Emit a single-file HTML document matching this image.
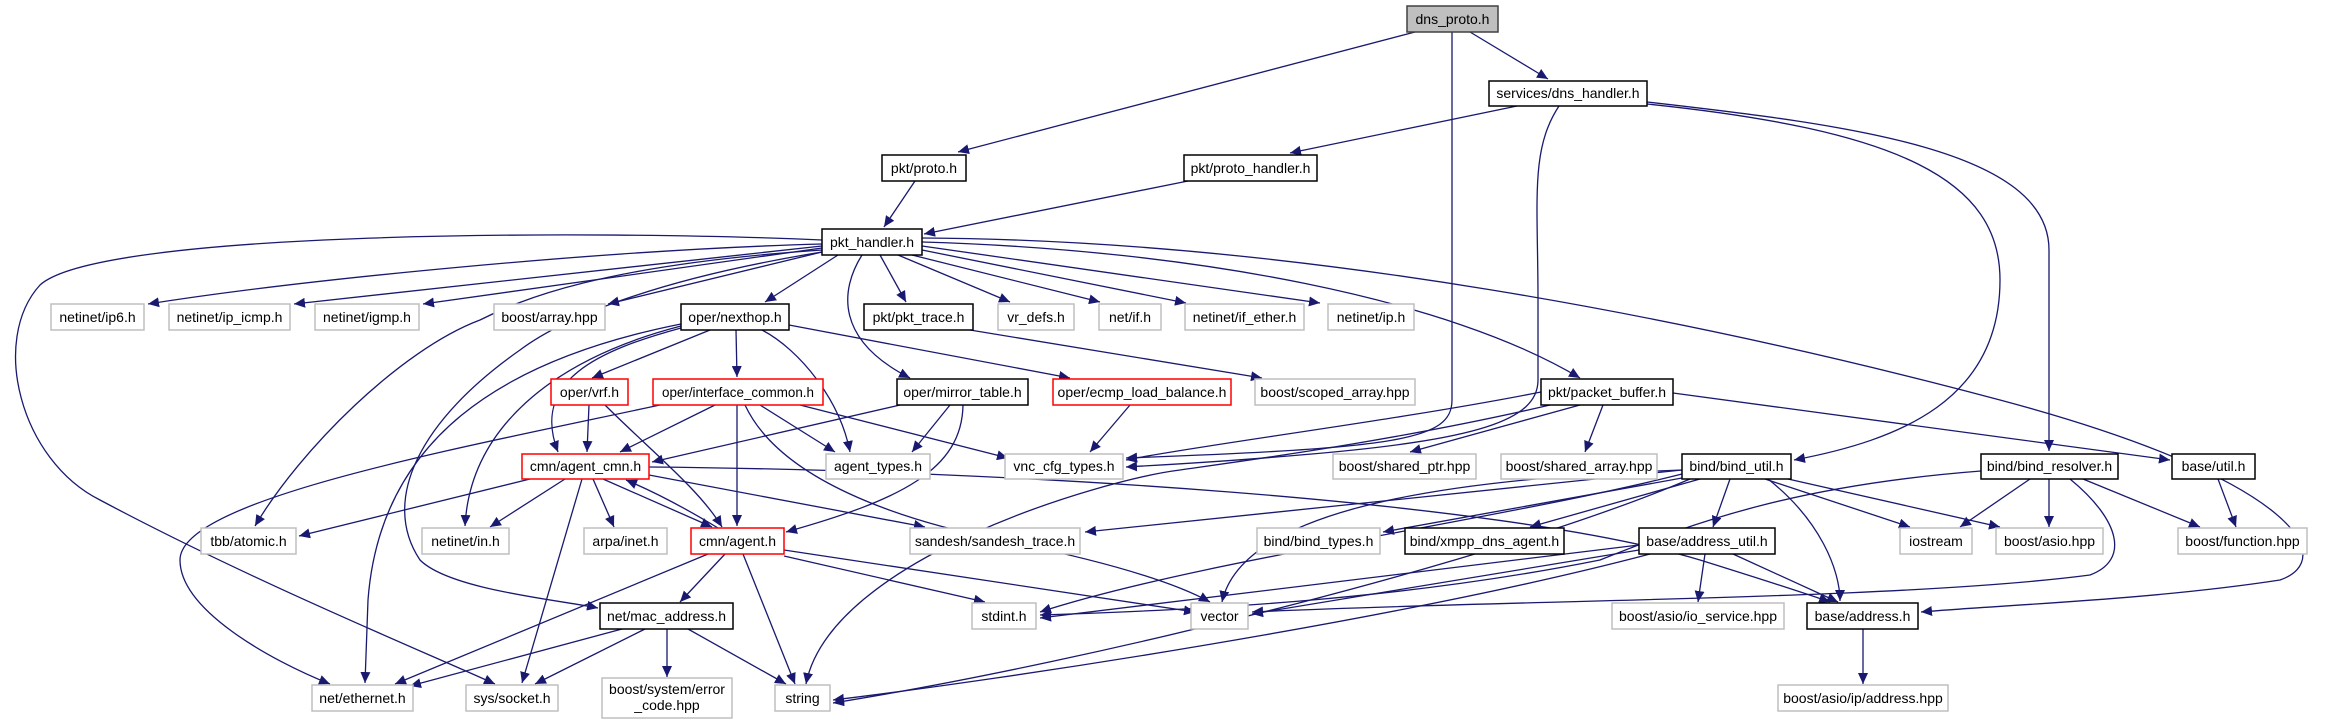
<!DOCTYPE html>
<html><head><meta charset="utf-8"><style>
html,body{margin:0;padding:0;background:#fff;}
svg{display:block;}
text{font-family:"Liberation Sans",sans-serif;font-size:14px;fill:#000;}
.e{fill:none;stroke:#191970;stroke-width:1.3;marker-end:url(#a);}
.g{fill:#fff;stroke:#bfbfbf;stroke-width:1.5;}
.b{fill:#fff;stroke:#000;stroke-width:1.5;}
.r{fill:#fff;stroke:#ff0000;stroke-width:1.5;}
.f{fill:#bfbfbf;stroke:#404040;stroke-width:1.5;}
</style></head><body>
<svg width="2338" height="724" viewBox="0 0 2338 724" xmlns="http://www.w3.org/2000/svg">
<defs><marker id="a" markerUnits="userSpaceOnUse" markerWidth="12" markerHeight="10" refX="11" refY="5" orient="auto"><path d="M0,0 L11,5 L0,10 z" fill="#191970"/></marker></defs>
<g>
<path class="e" d="M1415,32 L958,152"/>
<path class="e" d="M1470,32 L1548,79"/>
<path class="e" d="M1452,32 L1452,400 C1452,440 1400,448 1126,458"/>
<path class="e" d="M1517,106 L1290,153"/>
<path class="e" d="M1559,106 C1530,150 1538,200 1538,300 L1538,380 C1538,420 1480,440 1300,455 C1220,462 1160,465 1126,467"/>
<path class="e" d="M1647,104 C1900,130 2000,180 2000,280 C2000,400 1900,440 1794,460"/>
<path class="e" d="M1647,102 C1850,125 2049,150 2049,250 L2049,451"/>
<path class="e" d="M915,181 L884,227"/>
<path class="e" d="M1188,181 L924,234"/>
<path class="e" d="M822,244 C600,250 300,280 148,304"/>
<path class="e" d="M822,246 L294,304"/>
<path class="e" d="M822,248 L423,304"/>
<path class="e" d="M822,252 L608,304"/>
<path class="e" d="M838,255 L765,302"/>
<path class="e" d="M880,255 L906,302"/>
<path class="e" d="M898,255 L1010,302"/>
<path class="e" d="M912,255 L1100,302"/>
<path class="e" d="M922,250 L1186,303"/>
<path class="e" d="M922,246 L1320,303"/>
<path class="e" d="M922,242 C1200,250 1450,300 1580,378"/>
<path class="e" d="M922,238 C1300,240 1700,320 2000,400 C2300,480 2338,560 2280,580 C2150,600 2000,605 1921,612"/>
<path class="e" d="M862,255 C840,290 835,340 910,378"/>
<path class="e" d="M822,250 C600,265 520,300 480,320 C400,350 300,450 255,526"/>
<path class="e" d="M822,252 C650,280 560,320 520,350 C420,420 380,500 420,560 C450,590 560,600 598,608"/>
<path class="e" d="M822,240 C600,230 100,230 40,285 C-10,340 20,460 100,500 C250,580 420,650 495,684"/>
<path class="e" d="M710,330 L592,378"/>
<path class="e" d="M736,330 L737,377"/>
<path class="e" d="M762,330 C800,350 840,400 850,452"/>
<path class="e" d="M789,325 L1070,378"/>
<path class="e" d="M681,328 C600,350 530,380 558,452"/>
<path class="e" d="M681,326 C550,360 470,430 465,526"/>
<path class="e" d="M681,324 C500,360 380,440 368,600 L365,683"/>
<path class="e" d="M660,405 C450,450 180,500 180,560 C180,610 270,660 330,684"/>
<path class="e" d="M589,405 L587,452"/>
<path class="e" d="M605,405 C650,450 700,490 722,527"/>
<path class="e" d="M715,405 L620,452"/>
<path class="e" d="M737,405 L737,526"/>
<path class="e" d="M760,405 L835,452"/>
<path class="e" d="M800,405 L1008,458"/>
<path class="e" d="M745,405 C780,480 900,520 1000,540 C1100,560 1170,580 1210,602"/>
<path class="e" d="M900,405 L652,462"/>
<path class="e" d="M950,405 L912,452"/>
<path class="e" d="M963,405 C962,470 900,500 786,532"/>
<path class="e" d="M1130,405 L1090,452"/>
<path class="e" d="M970,330 L1262,378"/>
<path class="e" d="M1541,392 C1400,420 1200,445 1126,460"/>
<path class="e" d="M1550,405 C1400,440 1250,460 1180,470 C1100,480 830,560 806,684"/>
<path class="e" d="M1580,405 L1410,452"/>
<path class="e" d="M1603,405 L1585,452"/>
<path class="e" d="M1673,393 L2170,460"/>
<path class="e" d="M530,479 L299,536"/>
<path class="e" d="M565,479 L490,527"/>
<path class="e" d="M593,479 L614,527"/>
<path class="e" d="M603,479 L712,527"/>
<path class="e" d="M718,528 C680,505 650,490 626,480"/>
<path class="e" d="M582,479 L522,683"/>
<path class="e" d="M649,475 L925,527"/>
<path class="e" d="M649,467 C1000,470 1500,500 1700,560 C1780,585 1810,595 1830,602"/>
<path class="e" d="M708,554 L395,684"/>
<path class="e" d="M725,554 L680,602"/>
<path class="e" d="M743,554 L795,684"/>
<path class="e" d="M784,556 L985,602"/>
<path class="e" d="M784,550 L1195,612"/>
<path class="e" d="M622,629 L410,686"/>
<path class="e" d="M645,629 L535,684"/>
<path class="e" d="M667,629 L667,677"/>
<path class="e" d="M688,629 L786,684"/>
<path class="e" d="M1682,470 L1085,532"/>
<path class="e" d="M1682,474 C1500,520 1200,560 1040,612"/>
<path class="e" d="M1682,470 C1400,480 1240,520 1222,602"/>
<path class="e" d="M1682,478 L1383,532"/>
<path class="e" d="M1700,479 L1530,527"/>
<path class="e" d="M1730,479 L1713,527"/>
<path class="e" d="M1765,479 L1910,527"/>
<path class="e" d="M1788,479 L2000,527"/>
<path class="e" d="M1768,479 C1820,520 1840,570 1840,601"/>
<path class="e" d="M1690,479 C1500,560 1100,660 833,703"/>
<path class="e" d="M2030,479 L1960,527"/>
<path class="e" d="M2049,479 L2049,527"/>
<path class="e" d="M2083,479 L2200,527"/>
<path class="e" d="M2070,479 C2120,520 2130,560 2090,575 C1900,600 1500,600 1252,612"/>
<path class="e" d="M1981,471 C1800,485 1700,520 1600,560 C1400,600 1200,610 1040,615"/>
<path class="e" d="M2218,479 L2236,527"/>
<path class="e" d="M1705,554 L1698,602"/>
<path class="e" d="M1733,554 L1838,602"/>
<path class="e" d="M1639,545 L1040,618"/>
<path class="e" d="M1639,550 L1252,614"/>
<path class="e" d="M1650,554 C1400,620 1000,680 833,700"/>
<path class="e" d="M1863,629 L1863,684"/>
</g>
<g>
<rect class="f" x="1407" y="6" width="91" height="26"/><text x="1452.5" y="24" text-anchor="middle">dns_proto.h</text>
<rect class="b" x="1489" y="81" width="158" height="25"/><text x="1568" y="98" text-anchor="middle">services/dns_handler.h</text>
<rect class="b" x="882" y="155" width="84" height="26"/><text x="924" y="173" text-anchor="middle">pkt/proto.h</text>
<rect class="b" x="1184" y="155" width="133" height="26"/><text x="1250.5" y="173" text-anchor="middle">pkt/proto_handler.h</text>
<rect class="b" x="822" y="229" width="100" height="26"/><text x="872" y="247" text-anchor="middle">pkt_handler.h</text>
<rect class="g" x="51" y="304" width="93" height="26"/><text x="97.5" y="322" text-anchor="middle">netinet/ip6.h</text>
<rect class="g" x="169" y="304" width="121" height="26"/><text x="229.5" y="322" text-anchor="middle">netinet/ip_icmp.h</text>
<rect class="g" x="315" y="304" width="104" height="26"/><text x="367" y="322" text-anchor="middle">netinet/igmp.h</text>
<rect class="g" x="494" y="304" width="111" height="26"/><text x="549.5" y="322" text-anchor="middle">boost/array.hpp</text>
<rect class="b" x="681" y="304" width="108" height="26"/><text x="735" y="322" text-anchor="middle">oper/nexthop.h</text>
<rect class="b" x="864" y="304" width="109" height="26"/><text x="918.5" y="322" text-anchor="middle">pkt/pkt_trace.h</text>
<rect class="g" x="998" y="304" width="76" height="26"/><text x="1036" y="322" text-anchor="middle">vr_defs.h</text>
<rect class="g" x="1099" y="304" width="62" height="26"/><text x="1130" y="322" text-anchor="middle">net/if.h</text>
<rect class="g" x="1185" y="304" width="119" height="26"/><text x="1244.5" y="322" text-anchor="middle">netinet/if_ether.h</text>
<rect class="g" x="1328" y="304" width="86" height="26"/><text x="1371" y="322" text-anchor="middle">netinet/ip.h</text>
<rect class="r" x="551" y="379" width="77" height="26"/><text x="589.5" y="397" text-anchor="middle">oper/vrf.h</text>
<rect class="r" x="653" y="379" width="170" height="26"/><text x="738" y="397" text-anchor="middle" textLength="152" lengthAdjust="spacingAndGlyphs">oper/interface_common.h</text>
<rect class="b" x="897" y="379" width="131" height="26"/><text x="962.5" y="397" text-anchor="middle">oper/mirror_table.h</text>
<rect class="r" x="1053" y="379" width="178" height="26"/><text x="1142" y="397" text-anchor="middle">oper/ecmp_load_balance.h</text>
<rect class="g" x="1255" y="379" width="160" height="26"/><text x="1335" y="397" text-anchor="middle">boost/scoped_array.hpp</text>
<rect class="b" x="1541" y="379" width="132" height="26"/><text x="1607" y="397" text-anchor="middle">pkt/packet_buffer.h</text>
<rect class="r" x="522" y="454" width="127" height="25"/><text x="585.5" y="471" text-anchor="middle">cmn/agent_cmn.h</text>
<rect class="g" x="826" y="454" width="104" height="25"/><text x="878" y="471" text-anchor="middle">agent_types.h</text>
<rect class="g" x="1005" y="454" width="118" height="25"/><text x="1064" y="471" text-anchor="middle">vnc_cfg_types.h</text>
<rect class="g" x="1333" y="454" width="143" height="25"/><text x="1404.5" y="471" text-anchor="middle">boost/shared_ptr.hpp</text>
<rect class="g" x="1501" y="454" width="156" height="25"/><text x="1579" y="471" text-anchor="middle">boost/shared_array.hpp</text>
<rect class="b" x="1682" y="454" width="109" height="25"/><text x="1736.5" y="471" text-anchor="middle">bind/bind_util.h</text>
<rect class="b" x="1981" y="454" width="137" height="25"/><text x="2049.5" y="471" text-anchor="middle">bind/bind_resolver.h</text>
<rect class="b" x="2172" y="454" width="83" height="25"/><text x="2213.5" y="471" text-anchor="middle">base/util.h</text>
<rect class="g" x="201" y="528" width="95" height="26"/><text x="248.5" y="546" text-anchor="middle">tbb/atomic.h</text>
<rect class="g" x="422" y="528" width="87" height="26"/><text x="465.5" y="546" text-anchor="middle">netinet/in.h</text>
<rect class="g" x="584" y="528" width="83" height="26"/><text x="625.5" y="546" text-anchor="middle">arpa/inet.h</text>
<rect class="r" x="691" y="528" width="93" height="26"/><text x="737.5" y="546" text-anchor="middle">cmn/agent.h</text>
<rect class="g" x="910" y="528" width="170" height="26"/><text x="995" y="546" text-anchor="middle">sandesh/sandesh_trace.h</text>
<rect class="g" x="1257" y="528" width="123" height="26"/><text x="1318.5" y="546" text-anchor="middle">bind/bind_types.h</text>
<rect class="b" x="1405" y="528" width="159" height="26"/><text x="1484.5" y="546" text-anchor="middle">bind/xmpp_dns_agent.h</text>
<rect class="b" x="1639" y="528" width="136" height="26"/><text x="1707" y="546" text-anchor="middle">base/address_util.h</text>
<rect class="g" x="1900" y="528" width="72" height="26"/><text x="1936" y="546" text-anchor="middle">iostream</text>
<rect class="g" x="1996" y="528" width="107" height="26"/><text x="2049.5" y="546" text-anchor="middle">boost/asio.hpp</text>
<rect class="g" x="2178" y="528" width="129" height="26"/><text x="2242.5" y="546" text-anchor="middle">boost/function.hpp</text>
<rect class="b" x="600" y="603" width="133" height="26"/><text x="666.5" y="621" text-anchor="middle">net/mac_address.h</text>
<rect class="g" x="972" y="603" width="64" height="26"/><text x="1004" y="621" text-anchor="middle">stdint.h</text>
<rect class="g" x="1191" y="603" width="57" height="26"/><text x="1219.5" y="621" text-anchor="middle">vector</text>
<rect class="g" x="1612" y="603" width="172" height="26"/><text x="1698" y="621" text-anchor="middle">boost/asio/io_service.hpp</text>
<rect class="b" x="1807" y="603" width="111" height="26"/><text x="1862.5" y="621" text-anchor="middle">base/address.h</text>
<rect class="g" x="312" y="685" width="101" height="26"/><text x="362.5" y="703" text-anchor="middle">net/ethernet.h</text>
<rect class="g" x="466" y="685" width="92" height="26"/><text x="512" y="703" text-anchor="middle">sys/socket.h</text>
<rect class="g" x="602" y="678" width="130" height="40"/><text x="667" y="694" text-anchor="middle">boost/system/error</text><text x="667" y="710" text-anchor="middle">_code.hpp</text>
<rect class="g" x="775" y="685" width="55" height="26"/><text x="802.5" y="703" text-anchor="middle">string</text>
<rect class="g" x="1778" y="685" width="170" height="26"/><text x="1863" y="703" text-anchor="middle">boost/asio/ip/address.hpp</text>
</g>
</svg>
</body></html>
